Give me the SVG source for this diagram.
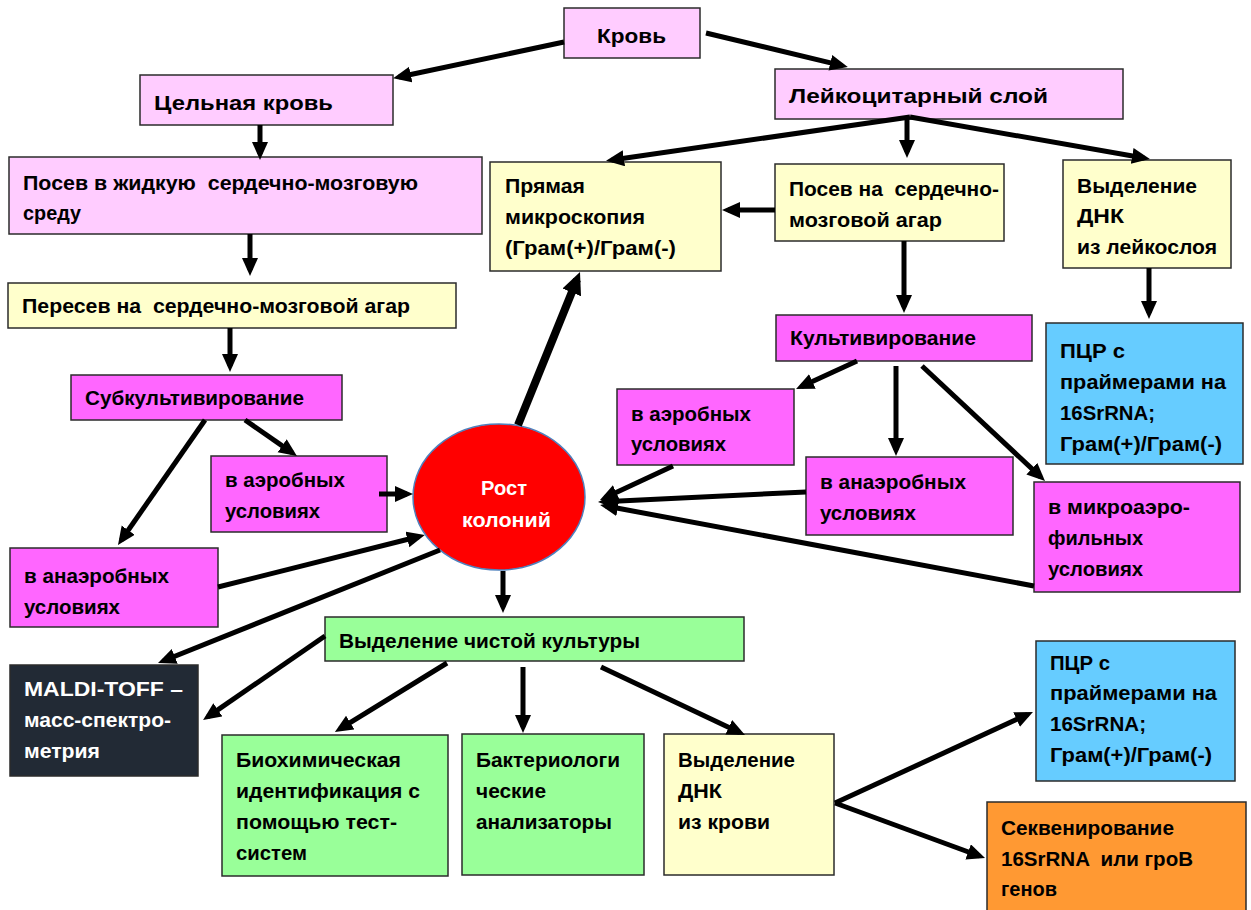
<svg xmlns="http://www.w3.org/2000/svg" width="1251" height="910" viewBox="0 0 1251 910">
<style>
.b{stroke:#2b2b2b;stroke-width:1.5}
.pk{fill:#FFCCFF}.yl{fill:#FFFFCC}.mg{fill:#FF66FF}.bl{fill:#66CCFF}.gr{fill:#99FF99}.dk{fill:#222A35}.or{fill:#FF9933}
text{font-family:"Liberation Sans",Arial,sans-serif;font-weight:bold;font-size:21px;fill:#000;white-space:pre}
.w{fill:#fff}
.c line{stroke:#000;stroke-width:5;marker-end:url(#ah)}
.c line.t{stroke-width:8;marker-end:url(#ahb)}
</style>
<defs>
<marker id="ah" markerUnits="userSpaceOnUse" markerWidth="20" markerHeight="18" refX="12" refY="8" orient="auto"><path d="M0,0 L18,8 L0,16 z" fill="#000"/></marker>
<marker id="ahb" markerUnits="userSpaceOnUse" markerWidth="24" markerHeight="22" refX="14" refY="10" orient="auto"><path d="M0,0 L22,10 L0,20 z" fill="#000"/></marker>
</defs>
<rect width="1251" height="910" fill="#fff"/>

<g id="n-krov"><rect class="b pk" x="564" y="8" width="136" height="50"/><text x="597" y="43" font-size="24" textLength="69" lengthAdjust="spacingAndGlyphs">Кровь</text></g>
<g id="n-celnaya"><rect class="b pk" x="140" y="75" width="253" height="50"/><text x="154" y="110" font-size="22" textLength="179" lengthAdjust="spacingAndGlyphs">Цельная кровь</text></g>
<g id="n-leyko"><rect class="b pk" x="775" y="69" width="348" height="50"/><text x="789" y="103" font-size="22" textLength="259" lengthAdjust="spacingAndGlyphs">Лейкоцитарный слой</text></g>
<g id="n-posev-zh"><rect class="b pk" x="9" y="157" width="473" height="77"/><text xml:space="preserve" x="23" y="190" textLength="395" lengthAdjust="spacingAndGlyphs">Посев в жидкую  сердечно-мозговую</text><text x="23" y="220" textLength="58" lengthAdjust="spacingAndGlyphs">среду</text></g>
<g id="n-peresev"><rect class="b yl" x="8" y="283" width="448" height="45"/><text xml:space="preserve" x="22" y="313" textLength="388" lengthAdjust="spacingAndGlyphs">Пересев на  сердечно-мозговой агар</text></g>
<g id="n-pryamaya"><rect class="b yl" x="490" y="162" width="231" height="109"/><text x="505" y="193" textLength="80" lengthAdjust="spacingAndGlyphs">Прямая</text><text x="505" y="224" textLength="140" lengthAdjust="spacingAndGlyphs">микроскопия</text><text x="505" y="255" textLength="171" lengthAdjust="spacingAndGlyphs">(Грам(+)/Грам(-)</text></g>
<g id="n-posev-agar"><rect class="b yl" x="775" y="164" width="229" height="77"/><text xml:space="preserve" x="789" y="196" textLength="210" lengthAdjust="spacingAndGlyphs">Посев на  сердечно-</text><text x="789" y="227" textLength="153" lengthAdjust="spacingAndGlyphs">мозговой агар</text></g>
<g id="n-dnk-leyko"><rect class="b yl" x="1063" y="160" width="168" height="108"/><text x="1077" y="193" textLength="120" lengthAdjust="spacingAndGlyphs">Выделение</text><text x="1077" y="223" textLength="47" lengthAdjust="spacingAndGlyphs">ДНК</text><text x="1077" y="254" textLength="140" lengthAdjust="spacingAndGlyphs">из лейкослоя</text></g>
<g id="n-kultiv"><rect class="b mg" x="776" y="315" width="256" height="46"/><text x="790" y="345" textLength="186" lengthAdjust="spacingAndGlyphs">Культивирование</text></g>
<g id="n-pcr1"><rect class="b bl" x="1046" y="323" width="197" height="141"/><text x="1060" y="358" textLength="65" lengthAdjust="spacingAndGlyphs">ПЦР с</text><text x="1060" y="389" textLength="166" lengthAdjust="spacingAndGlyphs">праймерами на</text><text x="1060" y="420" textLength="95" lengthAdjust="spacingAndGlyphs">16SrRNA;</text><text x="1060" y="451" textLength="162" lengthAdjust="spacingAndGlyphs">Грам(+)/Грам(-)</text></g>
<g id="n-subkult"><rect class="b mg" x="71" y="375" width="271" height="45"/><text x="85" y="405" textLength="219" lengthAdjust="spacingAndGlyphs">Субкультивирование</text></g>
<g id="n-aer-l"><rect class="b mg" x="211" y="456" width="176" height="76"/><text x="225" y="487" textLength="120" lengthAdjust="spacingAndGlyphs">в аэробных</text><text x="225" y="518" textLength="95" lengthAdjust="spacingAndGlyphs">условиях</text></g>
<g id="n-aer-r"><rect class="b mg" x="617" y="389" width="177" height="76"/><text x="631" y="421" textLength="120" lengthAdjust="spacingAndGlyphs">в аэробных</text><text x="631" y="451" textLength="95" lengthAdjust="spacingAndGlyphs">условиях</text></g>
<g id="n-rost"><ellipse cx="499" cy="497" rx="86" ry="73" fill="#FF0000" stroke="#4F81BD" stroke-width="1.5"/><text class="w" x="481" y="495" textLength="46" lengthAdjust="spacingAndGlyphs">Рост</text><text class="w" x="462" y="527" textLength="89" lengthAdjust="spacingAndGlyphs">колоний</text></g>
<g id="n-anaer-r"><rect class="b mg" x="806" y="457" width="207" height="78"/><text x="820" y="489" textLength="146" lengthAdjust="spacingAndGlyphs">в анаэробных</text><text x="820" y="520" textLength="96" lengthAdjust="spacingAndGlyphs">условиях</text></g>
<g id="n-mikro"><rect class="b mg" x="1034" y="482" width="206" height="110"/><text x="1048" y="514" textLength="142" lengthAdjust="spacingAndGlyphs">в микроаэро-</text><text x="1048" y="545" textLength="95" lengthAdjust="spacingAndGlyphs">фильных</text><text x="1048" y="576" textLength="95" lengthAdjust="spacingAndGlyphs">условиях</text></g>
<g id="n-anaer-l"><rect class="b mg" x="10" y="548" width="208" height="79"/><text x="24" y="583" textLength="145" lengthAdjust="spacingAndGlyphs">в анаэробных</text><text x="24" y="614" textLength="96" lengthAdjust="spacingAndGlyphs">условиях</text></g>
<g id="n-chist"><rect class="b gr" x="325" y="617" width="419" height="44"/><text x="339" y="648" textLength="301" lengthAdjust="spacingAndGlyphs">Выделение чистой культуры</text></g>
<g id="n-maldi"><rect class="b dk" x="10" y="665" width="188" height="111"/><text class="w" x="24" y="696" textLength="159" lengthAdjust="spacingAndGlyphs">MALDI-TOFF –</text><text class="w" x="24" y="727" textLength="147" lengthAdjust="spacingAndGlyphs">масс-спектро-</text><text class="w" x="24" y="758" textLength="76" lengthAdjust="spacingAndGlyphs">метрия</text></g>
<g id="n-biohim"><rect class="b gr" x="222" y="735" width="226" height="141"/><text x="236" y="767" textLength="165" lengthAdjust="spacingAndGlyphs">Биохимическая</text><text x="236" y="798" textLength="184" lengthAdjust="spacingAndGlyphs">идентификация с</text><text x="236" y="829" textLength="161" lengthAdjust="spacingAndGlyphs">помощью тест-</text><text x="236" y="860" textLength="71" lengthAdjust="spacingAndGlyphs">систем</text></g>
<g id="n-bakt"><rect class="b gr" x="462" y="734" width="182" height="141"/><text x="476" y="767" textLength="144" lengthAdjust="spacingAndGlyphs">Бактериологи</text><text x="476" y="798" textLength="70" lengthAdjust="spacingAndGlyphs">ческие</text><text x="476" y="829" textLength="136" lengthAdjust="spacingAndGlyphs">анализаторы</text></g>
<g id="n-dnk-krov"><rect class="b yl" x="664" y="734" width="170" height="141"/><text x="678" y="767" textLength="117" lengthAdjust="spacingAndGlyphs">Выделение</text><text x="678" y="798" textLength="44" lengthAdjust="spacingAndGlyphs">ДНК</text><text x="678" y="829" textLength="92" lengthAdjust="spacingAndGlyphs">из крови</text></g>
<g id="n-pcr2"><rect class="b bl" x="1036" y="641" width="199" height="140"/><text x="1050" y="670" textLength="60" lengthAdjust="spacingAndGlyphs">ПЦР с</text><text x="1050" y="700" textLength="167" lengthAdjust="spacingAndGlyphs">праймерами на</text><text x="1050" y="731" textLength="96" lengthAdjust="spacingAndGlyphs">16SrRNA;</text><text x="1050" y="762" textLength="162" lengthAdjust="spacingAndGlyphs">Грам(+)/Грам(-)</text></g>
<g id="n-sekv"><rect class="b or" x="987" y="802" width="259" height="112"/><text x="1001" y="835" textLength="173" lengthAdjust="spacingAndGlyphs">Секвенирование</text><text xml:space="preserve" x="1001" y="866" textLength="192" lengthAdjust="spacingAndGlyphs">16SrRNA  или гроВ</text><text x="1001" y="896" textLength="56" lengthAdjust="spacingAndGlyphs">генов</text></g>

<g id="connectors" class="c">
<line x1="564" y1="42" x2="399" y2="77"/>
<line x1="706" y1="33" x2="842" y2="65.6"/>
<line x1="260" y1="125" x2="260" y2="154"/>
<line x1="250" y1="234" x2="250" y2="270"/>
<line x1="230" y1="328" x2="230" y2="366"/>
<line x1="245" y1="420" x2="292" y2="452.6"/>
<line x1="205" y1="420" x2="121.4" y2="540"/>
<line x1="379" y1="494" x2="407" y2="494"/>
<line x1="218" y1="587" x2="419" y2="536.5"/>
<line x1="440" y1="550" x2="163.6" y2="660.8"/>
<line class="t" x1="518" y1="425" x2="577" y2="279.4"/>
<line x1="910" y1="117" x2="612" y2="160"/>
<line x1="907" y1="119" x2="907" y2="152"/>
<line x1="910" y1="117" x2="1144" y2="158"/>
<line x1="775" y1="210" x2="728" y2="210"/>
<line x1="904" y1="241" x2="904" y2="307"/>
<line x1="1149" y1="268" x2="1149" y2="313"/>
<line x1="857" y1="361" x2="801.5" y2="386.5"/>
<line x1="896" y1="366" x2="896" y2="450"/>
<line x1="922" y1="366" x2="1040.6" y2="476.9"/>
<line x1="673" y1="466" x2="605.4" y2="497.5"/>
<line x1="806" y1="492" x2="604" y2="501.7"/>
<line x1="1034" y1="586" x2="606" y2="506"/>
<line x1="503" y1="571" x2="503" y2="607"/>
<line x1="325" y1="636" x2="208" y2="716.6"/>
<line x1="447" y1="663" x2="340" y2="728.8"/>
<line x1="523" y1="667" x2="523" y2="727"/>
<line x1="601" y1="667" x2="739.6" y2="732.4"/>
<line x1="835" y1="803" x2="1027.5" y2="714.5"/>
<line x1="835" y1="803" x2="979.4" y2="856"/>
</g>
</svg>
